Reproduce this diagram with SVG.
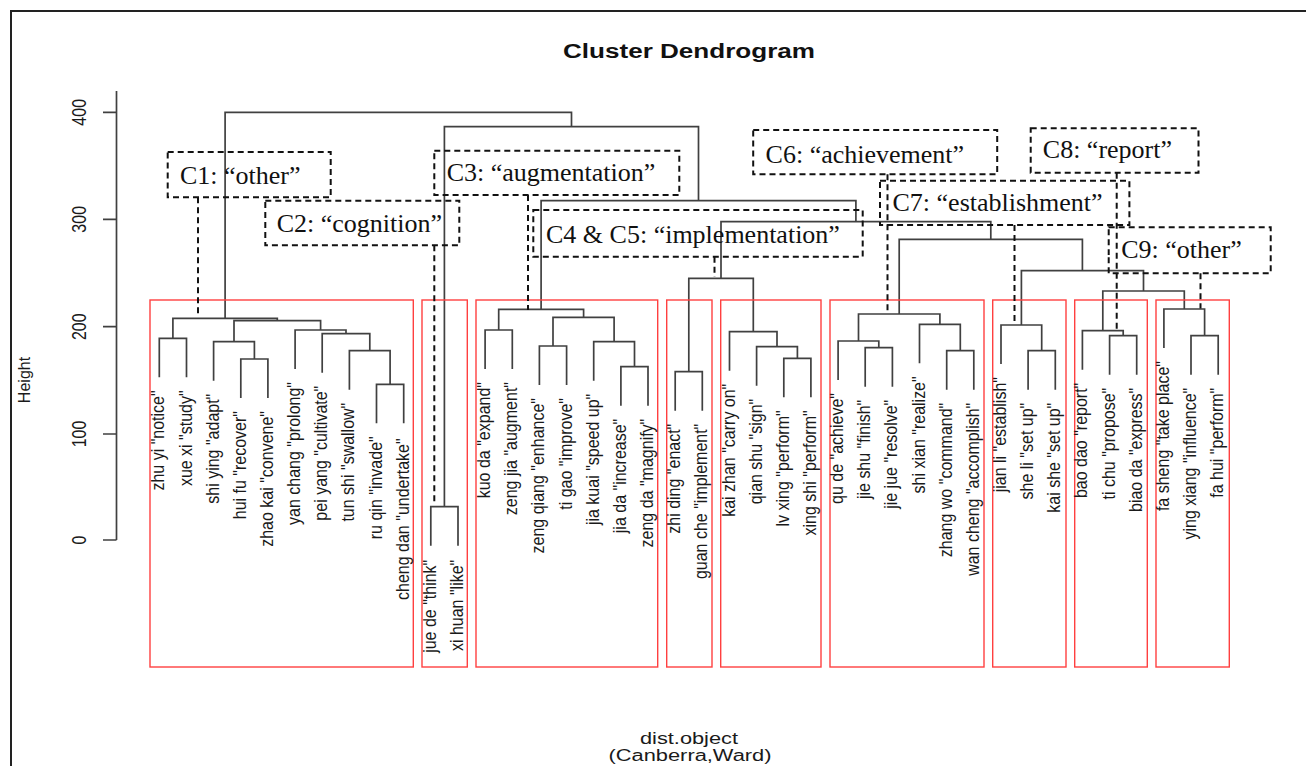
<svg xmlns="http://www.w3.org/2000/svg" width="1306" height="766" viewBox="0 0 1306 766">
<style>
.bg{fill:#fff}
.frame{fill:none;stroke:#222;stroke-width:2}
.tree{fill:none;stroke:#404040;stroke-width:1.7}
.axis{fill:none;stroke:#404040;stroke-width:1.7}
.red{fill:none;stroke:#ff4040;stroke-width:1.4}
.dbox{fill:none;stroke:#111;stroke-width:2;stroke-dasharray:6 4}
.leaf{font-family:"Liberation Sans",Arial,sans-serif;font-size:16px;fill:#1a1a1a;text-anchor:end}
.tick{font-family:"Liberation Sans",Arial,sans-serif;font-size:16px;fill:#1a1a1a;text-anchor:middle}
.ann{font-family:"Liberation Serif","Times New Roman",serif;font-size:26px;fill:#111}
.title{font-family:"Liberation Sans",Arial,sans-serif;font-size:20px;font-weight:bold;fill:#111;text-anchor:middle}
.xlab{font-family:"Liberation Sans",Arial,sans-serif;font-size:16px;fill:#1a1a1a;text-anchor:middle}
</style>
<rect class="bg" x="0" y="0" width="1306" height="766"/>
<path class="frame" d="M11 770V11H1310"/>
<text class="title" x="689" y="58" textLength="252" lengthAdjust="spacingAndGlyphs">Cluster Dendrogram</text>
<g id="axis">
<path class="axis" d="M116.5 91V540M103 112.3H116.5M103 219.3H116.5M103 326.7H116.5M103 434H116.5M103 540H116.5"/>
<text class="tick" transform="translate(86,112.3) rotate(-90) scale(1,1.3)">400</text>
<text class="tick" transform="translate(86,219.3) rotate(-90) scale(1,1.3)">300</text>
<text class="tick" transform="translate(86,326.7) rotate(-90) scale(1,1.3)">200</text>
<text class="tick" transform="translate(86,434) rotate(-90) scale(1,1.3)">100</text>
<text class="tick" transform="translate(86,540) rotate(-90) scale(1,1.3)">0</text>
<text class="tick" transform="translate(30,380) rotate(-90)">Height</text>
</g>
<text class="xlab" x="689" y="744.3" textLength="98" lengthAdjust="spacingAndGlyphs">dist.object</text>
<text class="xlab" x="690" y="761" textLength="163" lengthAdjust="spacingAndGlyphs">(Canberra,Ward)</text>

<g id="connectors">
<path class="tree" d="M225.1 318.3V112.3H571.5V126.7M444.4 506.7V126.7H698.5V200.7M541.1 309.3V200.7H855.9V221.7M721 278.3V221.7H990.8V239.3M899.2 314V239.3H1082.4V270.7M1021.4 325V270.7H1143.5V291M1102.8 330.7V291H1184.3V309M688.8 371.7V278.3H753.3V331.7"/>
</g>

<g id="C1">
<rect class="red" x="150" y="300" width="263.3" height="367"/>
<path class="tree" d="M159.3 377.3V338.3H186.5V377.3M240.8 398V359H267.9V398M213.6 380.7V341.7H254.4V359M376.5 423.3V384.3H403.7V423.3M349.4 389.7V350.7H390.1V384.3M322.2 372.7V333.7H369.8V350.7M295.1 369V330H346V333.7M234 341.7V320.7H320.6V330M172.9 338.3V318.3H277.3V320.7"/>
<text class="leaf" transform="translate(164.3,390.3) rotate(-90) scale(1,1.15)">zhu yi "notice"</text>
<text class="leaf" transform="translate(191.5,390.3) rotate(-90) scale(1,1.15)">xue xi "study"</text>
<text class="leaf" transform="translate(218.6,393.7) rotate(-90) scale(1,1.15)">shi ying "adapt"</text>
<text class="leaf" transform="translate(245.8,411) rotate(-90) scale(1,1.15)">hui fu "recover"</text>
<text class="leaf" transform="translate(272.9,411) rotate(-90) scale(1,1.15)">zhao kai "convene"</text>
<text class="leaf" transform="translate(300.1,382) rotate(-90) scale(1,1.15)">yan chang "prolong"</text>
<text class="leaf" transform="translate(327.2,385.7) rotate(-90) scale(1,1.15)">pei yang "cultivate"</text>
<text class="leaf" transform="translate(354.4,402.7) rotate(-90) scale(1,1.15)">tun shi "swallow"</text>
<text class="leaf" transform="translate(381.5,436.3) rotate(-90) scale(1,1.15)">ru qin "invade"</text>
<text class="leaf" transform="translate(408.7,438.3) rotate(-90) scale(1,1.15)">cheng dan "undertake"</text>
</g>

<g id="C2">
<rect class="red" x="422" y="300" width="45.3" height="367"/>
<path class="tree" d="M430.8 545.7V506.7H458V545.7"/>
<text class="leaf" transform="translate(435.8,559.7) rotate(-90) scale(1,1.15)">jue de "think"</text>
<text class="leaf" transform="translate(463,559.7) rotate(-90) scale(1,1.15)">xi huan "like"</text>
</g>

<g id="C3">
<rect class="red" x="476" y="300" width="181.7" height="367"/>
<path class="tree" d="M485.1 369V330H512.3V369M539.4 385V346H566.6V385M620.9 405.7V366.7H648V405.7M593.7 380.7V341.7H634.5V366.7M553 346V317.3H614.1V341.7M498.7 330V309.3H583.6V317.3"/>
<text class="leaf" transform="translate(490.1,382) rotate(-90) scale(1,1.15)">kuo da "expand"</text>
<text class="leaf" transform="translate(517.3,382) rotate(-90) scale(1,1.15)">zeng jia "augment"</text>
<text class="leaf" transform="translate(544.4,398) rotate(-90) scale(1,1.15)">zeng qiang "enhance"</text>
<text class="leaf" transform="translate(571.6,398) rotate(-90) scale(1,1.15)">ti gao "improve"</text>
<text class="leaf" transform="translate(598.7,393.7) rotate(-90) scale(1,1.15)">jia kuai "speed up"</text>
<text class="leaf" transform="translate(625.9,418.7) rotate(-90) scale(1,1.15)">jia da "increase"</text>
<text class="leaf" transform="translate(653,418.7) rotate(-90) scale(1,1.15)">zeng da "magnify"</text>
</g>

<g id="C4">
<rect class="red" x="666.7" y="300" width="45.3" height="367"/>
<path class="tree" d="M675.2 410.7V371.7H702.3V410.7"/>
<text class="leaf" transform="translate(680.2,423.7) rotate(-90) scale(1,1.15)">zhi ding "enact"</text>
<text class="leaf" transform="translate(707.3,423.7) rotate(-90) scale(1,1.15)">guan che "implement"</text>
</g>

<g id="C5">
<rect class="red" x="720.7" y="300" width="100.3" height="367"/>
<path class="tree" d="M783.8 397.3V358.3H810.9V397.3M756.6 385.7V346.7H797.4V358.3M729.5 370.7V331.7H777V346.7"/>
<text class="leaf" transform="translate(734.5,383.7) rotate(-90) scale(1,1.15)">kai zhan "carry on"</text>
<text class="leaf" transform="translate(761.6,398.7) rotate(-90) scale(1,1.15)">qian shu "sign"</text>
<text class="leaf" transform="translate(788.8,410.3) rotate(-90) scale(1,1.15)">lv xing "perform"</text>
<text class="leaf" transform="translate(815.9,410.3) rotate(-90) scale(1,1.15)">xing shi "perform"</text>
</g>

<g id="C6">
<rect class="red" x="830" y="300" width="154" height="367"/>
<path class="tree" d="M865.2 386.7V347.7H892.4V386.7M838.1 380V341H878.8V347.7M946.7 389.7V350.7H973.8V389.7M919.5 363.3V324.3H960.3V350.7M858.5 341V314H939.9V324.3"/>
<text class="leaf" transform="translate(843.1,393) rotate(-90) scale(1,1.15)">qu de "achieve"</text>
<text class="leaf" transform="translate(870.2,399.7) rotate(-90) scale(1,1.15)">jie shu "finish"</text>
<text class="leaf" transform="translate(897.4,399.7) rotate(-90) scale(1,1.15)">jie jue "resolve"</text>
<text class="leaf" transform="translate(924.5,376.3) rotate(-90) scale(1,1.15)">shi xian "realize"</text>
<text class="leaf" transform="translate(951.7,402.7) rotate(-90) scale(1,1.15)">zhang wo "command"</text>
<text class="leaf" transform="translate(978.8,402.7) rotate(-90) scale(1,1.15)">wan cheng "accomplish"</text>
</g>

<g id="C7">
<rect class="red" x="992.7" y="300" width="73.3" height="367"/>
<path class="tree" d="M1028.1 389.7V350.7H1055.3V389.7M1001 364V325H1041.7V350.7"/>
<text class="leaf" transform="translate(1006,377) rotate(-90) scale(1,1.15)">jian li "establish"</text>
<text class="leaf" transform="translate(1033.1,402.7) rotate(-90) scale(1,1.15)">she li "set up"</text>
<text class="leaf" transform="translate(1060.3,402.7) rotate(-90) scale(1,1.15)">kai she "set up"</text>
</g>

<g id="C8">
<rect class="red" x="1074.7" y="300" width="72.6" height="367"/>
<path class="tree" d="M1109.6 374.7V335.7H1136.7V374.7M1082.4 369.7V330.7H1123.2V335.7"/>
<text class="leaf" transform="translate(1087.4,382.7) rotate(-90) scale(1,1.15)">bao dao "report"</text>
<text class="leaf" transform="translate(1114.6,387.7) rotate(-90) scale(1,1.15)">ti chu "propose"</text>
<text class="leaf" transform="translate(1141.7,387.7) rotate(-90) scale(1,1.15)">biao da "express"</text>
</g>

<g id="C9">
<rect class="red" x="1156" y="300" width="73.3" height="367"/>
<path class="tree" d="M1191 374.7V335.7H1218.2V374.7M1163.9 348V309H1204.6V335.7"/>
<text class="leaf" transform="translate(1168.9,361) rotate(-90) scale(1,1.15)">fa sheng "take place"</text>
<text class="leaf" transform="translate(1196,387.7) rotate(-90) scale(1,1.15)">ying xiang "influence"</text>
<text class="leaf" transform="translate(1223.2,387.7) rotate(-90) scale(1,1.15)">fa hui "perform"</text>
</g>

<g id="annotations">
<g id="ann-C1"><rect class="dbox" x="167.7" y="152" width="163" height="45.3"/><path class="dbox" d="M198 197.3V317"/><text class="ann" x="180" y="184">C1: “other”</text></g>
<g id="ann-C2"><rect class="dbox" x="265.3" y="200.7" width="194" height="44.6"/><path class="dbox" d="M434.3 245.3V502.5"/><text class="ann" x="276.7" y="231.7">C2: “cognition”</text></g>
<g id="ann-C3"><rect class="dbox" x="434.3" y="150.7" width="245" height="44.3"/><path class="dbox" d="M528 195V310"/><text class="ann" x="446.7" y="181">C3: “augmentation”</text></g>
<g id="ann-C45"><rect class="dbox" x="533.3" y="210" width="329.4" height="46.7"/><path class="dbox" d="M714.5 256.7V277"/><text class="ann" x="546" y="242.7">C4 &amp; C5: “implementation”</text></g>
<g id="ann-C6"><rect class="dbox" x="753.2" y="130" width="244" height="44.3"/><path class="dbox" d="M887.5 174.3V314"/><text class="ann" x="765.6" y="162.7">C6: “achievement”</text></g>
<g id="ann-C7"><rect class="dbox" x="880" y="180.7" width="249.4" height="44.3"/><path class="dbox" d="M1014.5 225V322"/><text class="ann" x="892.5" y="210.7">C7: “establishment”</text></g>
<g id="ann-C8"><rect class="dbox" x="1030.7" y="128.3" width="167.8" height="44.4"/><path class="dbox" d="M1116.7 172.7V330.5"/><text class="ann" x="1042.8" y="158.3">C8: “report”</text></g>
<g id="ann-C9"><rect class="dbox" x="1108.7" y="227.3" width="162" height="46"/><path class="dbox" d="M1200.5 273.3V308.5"/><text class="ann" x="1121.2" y="258.3">C9: “other”</text></g>
</g>
</svg>
